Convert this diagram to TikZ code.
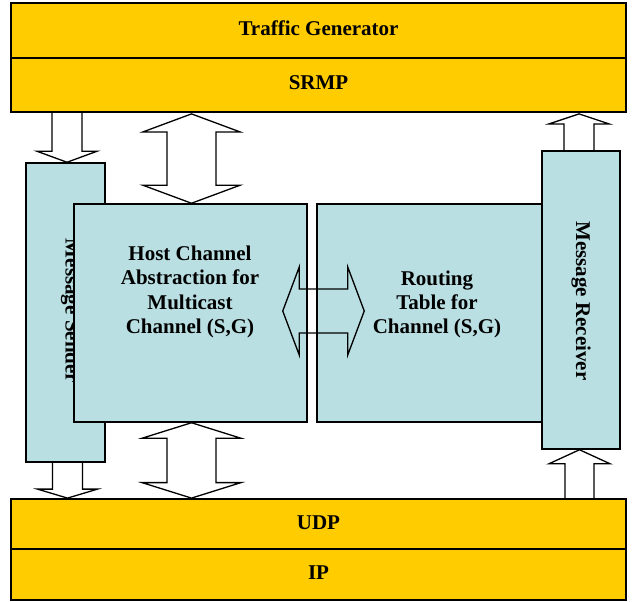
\documentclass[tikz,border=0pt]{standalone}
\usepackage{fontspec}
\setmainfont{Liberation Serif}
\usetikzlibrary{calc}
\definecolor{layerY}{HTML}{FFCC00}
\definecolor{boxB}{HTML}{B9DFE3}
\tikzset{
  ybox/.style={draw=black, line width=1.8pt, fill=layerY, inner sep=0pt},
  bbox/.style={draw=black, line width=1.5pt, fill=boxB, inner sep=0pt},
  lbl/.style={align=center, inner sep=0pt, font=\bfseries\fontsize{21}{24.4}\selectfont},
  barrow/.style={draw=black, line width=1.3pt, line join=miter}
}
% single block arrow: tail, tip, shaft half width, head half width, head length
\newcommand{\sarrow}[5]{%
  \path ($(#2)!#5!(#1)$) coordinate (hb);
  \draw[barrow] ($(#1)!#3!90:(#2)$) -- ($(hb)!#3!90:(#2)$) -- ($(hb)!#4!90:(#2)$)
    -- (#2) -- ($(hb)!#4!-90:(#2)$) -- ($(hb)!#3!-90:(#2)$) -- ($(#1)!#3!-90:(#2)$);
}
% double block arrow: end A, end B, shaft half width, head half width, head length
\newcommand{\darrow}[5]{%
  \path ($(#1)!#5!(#2)$) coordinate (ha) ($(#2)!#5!(#1)$) coordinate (hb);
  \draw[barrow] (#1) -- ($(ha)!#4!90:(#1)$) -- ($(ha)!#3!90:(#1)$)
    -- ($(hb)!#3!-90:(#2)$) -- ($(hb)!#4!-90:(#2)$) -- (#2)
    -- ($(hb)!#4!90:(#2)$) -- ($(hb)!#3!90:(#2)$)
    -- ($(ha)!#3!-90:(#1)$) -- ($(ha)!#4!-90:(#1)$) -- cycle;
}
\begin{document}
\begin{tikzpicture}[x=1pt, y=-1pt]
\useasboundingbox (0,0) rectangle (632,602);
% layers
\node[ybox, minimum width=615pt, minimum height=55pt] (tg) at (318.5,30.5) {};
\node[lbl] (tgl) at (318.5,28) {Traffic Generator};
\node[ybox, minimum width=615pt, minimum height=54pt] (srmp) at (318.5,85) {};
\node[lbl] (srmpl) at (318.5,82.5) {SRMP};
\node[ybox, minimum width=615pt, minimum height=50pt] (udp) at (318.5,524) {};
\node[lbl] (udpl) at (318.5,522.5) {UDP};
\node[ybox, minimum width=615pt, minimum height=51pt] (ip) at (318.5,574.5) {};
\node[lbl] (ipl) at (318.5,573) {IP};
% message sender (partly hidden)
\node[bbox, minimum width=79pt, minimum height=299pt] (sender) at (65.5,312.5) {};
\node[lbl, rotate=-90, anchor=base] (senderl) at (65.5,311) {Message Sender};
% host channel
\node[bbox, minimum width=233pt, minimum height=218pt] (host) at (190.5,313) {};
\node[lbl] (hostl) at (190,292) {Host Channel\\Abstraction for\\Multicast\\Channel (S,G)};
% routing table
\node[bbox, minimum width=225pt, minimum height=218pt] (routing) at (429.5,313) {};
\node[lbl] (routingl) at (437,304.5) {Routing\\Table for\\Channel (S,G)};
% message receiver
\node[bbox, minimum width=78pt, minimum height=298pt] (receiver) at (581,300) {};
\node[lbl, rotate=-90] (receiverl) at (581,301) {Message Receiver};
% arrows
\sarrow{$(sender.north|-srmp.south)+(1.5,0)$}{$(sender.north)+(1.5,0)$}{15pt}{30pt}{11pt}
\darrow{$(host.north|-srmp.south)+(1,1)$}{$(host.north)+(1,0)$}{24.5pt}{48.5pt}{18pt}
\darrow{$(host.south)+(1,0)$}{$(host.south|-udp.north)+(1,0)$}{24.5pt}{49.5pt}{15.5pt}
\sarrow{$(sender.south)+(2,0)$}{$(sender.south|-udp.north)+(2,0)$}{15pt}{30pt}{9pt}
\sarrow{$(receiver.south|-udp.north)+(-1.5,0)$}{$(receiver.south)+(-1.5,0)$}{14.5pt}{30.5pt}{14pt}
\sarrow{$(receiver.north)+(-2,0)$}{$(receiver.north|-srmp.south)+(-2,1)$}{15pt}{30pt}{10pt}
\darrow{$(host.east)+(-25,-2)$}{$(routing.west)+(48,-2)$}{22pt}{44pt}{16.5pt}
\end{tikzpicture}
\end{document}
